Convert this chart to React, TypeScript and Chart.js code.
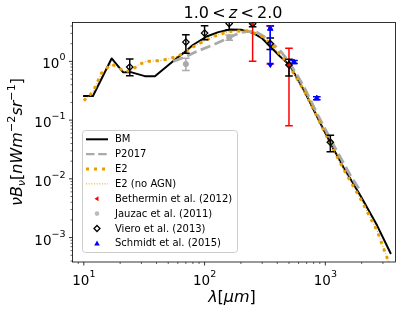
import React, { useEffect, useRef } from "react";
import { Chart, registerables } from "chart.js";
Chart.register(...registerables);

// ---------- data ----------
const bmLambda = [10, 11.9, 17, 21.2, 24.9, 32, 38.8, 58.7, 66.7, 80, 104, 130, 162, 200, 254, 300, 350, 420, 506, 661, 853, 1098, 1419, 1950, 2686, 3470];
const bmValue = [0.257, 0.257, 1.12, 0.65, 0.65, 0.56, 0.56, 1.13, 1.38, 1.9, 2.65, 3.15, 3.5, 3.45, 3.03, 2.45, 1.79, 1.22, 0.87, 0.33, 0.115, 0.041, 0.0155, 0.0052, 0.0016, 0.00054];

const p2017Lambda = [55, 70, 86, 118, 158, 197, 230, 270, 328, 420, 506, 661, 853, 1137, 1611, 1950];
const p2017Value = [1.0, 1.2, 1.47, 1.91, 2.5, 3.1, 3.25, 3.15, 2.45, 1.55, 0.95, 0.38, 0.13, 0.042, 0.0115, 0.0062];

const e2Lambda = [10, 11.9, 14, 17, 21.9, 24.9, 28.2, 33, 42.7, 50, 60.8, 66.7, 80, 104, 130, 162, 224, 289, 372, 496, 661, 853, 1098, 1419, 1950, 2686, 3350];
const e2Value = [0.214, 0.3, 0.63, 0.9, 0.67, 0.7, 0.87, 1.0, 1.03, 1.1, 1.24, 1.38, 1.75, 2.33, 2.85, 3.23, 3.32, 2.84, 1.79, 0.87, 0.33, 0.115, 0.04, 0.0145, 0.0046, 0.0013, 0.00038];

const e2NoAgnLambda = e2Lambda;
const e2NoAgnValue = e2Value;

const bethLambda = [250, 350, 500];
const bethValue = [4.3, 3.8, 0.87];
const bethLow = [1.0, 0.9, 0.08];
const bethHigh = [7.4, 4.05, 1.68];

const jauzLambda = [70, 160];
const jauzValue = [0.9, 2.55];
const jauzLow = [0.7, 2.3];
const jauzHigh = [1.13, 2.8];

const vieroLambda = [24, 70, 100, 160, 250, 350, 500, 1100];
const vieroValue = [0.8, 2.13, 3.03, 4.4, 4.37, 2.0, 0.87, 0.042];
const vieroLow = [0.57, 1.38, 2.33, 3.45, 3.9, 1.6, 0.565, 0.029];
const vieroHigh = [1.1, 2.84, 4.05, 5.6, 5.6, 2.5, 1.09, 0.055];

const schLambda = [350, 550, 850];
const schValue = [3.6, 0.97, 0.235];
const schLow = [0.95, 0.92, 0.222];
const schHigh = [4.0, 1.03, 0.25];
const schUpperLimit = [true, false, false];

const xMajorTicks = [10, 100, 1000];
const yMajorTicks = [1e-3, 1e-2, 1e-1, 1];

const legendLabels = ["BM", "P2017", "E2", "E2 (no AGN)", "Bethermin et al. (2012)", "Jauzac et al. (2011)", "Viero et al. (2013)", "Schmidt et al. (2015)"];

// ---------- styling ----------
const FONT = "'DejaVu Sans', 'Noto Sans', sans-serif";
const ORANGE = "#e69f00";
const GRAY = "#aaaaaa";
const X_MIN = 8.06, X_MAX = 3811;
const Y_MIN = 3.84e-4, Y_MAX = 4.59;

type Run = { t: string; it?: boolean; s: number; dy?: number };

function fontOf(r: Run) {
  return `${r.it ? "italic " : ""}${r.s}px ${FONT}`;
}
function runsWidth(ctx: CanvasRenderingContext2D, runs: Run[]) {
  let w = 0;
  for (const r of runs) {
    ctx.font = fontOf(r);
    w += ctx.measureText(r.t).width;
  }
  return w;
}
function drawRuns(ctx: CanvasRenderingContext2D, runs: Run[], x: number, y: number, align: "left" | "center" | "right") {
  const w = runsWidth(ctx, runs);
  let cx = align === "left" ? x : align === "center" ? x - w / 2 : x - w;
  ctx.textAlign = "left";
  ctx.textBaseline = "alphabetic";
  for (const r of runs) {
    ctx.font = fontOf(r);
    ctx.fillText(r.t, cx, y + (r.dy || 0));
    cx += ctx.measureText(r.t).width;
  }
}
function expRuns(v: number): Run[] {
  const k = Math.round(Math.log10(v));
  const e = k >= 0 ? String(k) : "\u2212" + String(-k);
  return [{ t: "10", s: 13.5 }, { t: e, s: 9.5, dy: -8 }];
}

function pts(xs: number[], ys: number[]) {
  return xs.map((x, i) => ({ x, y: ys[i] }));
}

function drawErrorBars(chart: any) {
  const ctx: CanvasRenderingContext2D = chart.ctx;
  const xs = chart.scales.x, ys = chart.scales.y;
  const a = chart.chartArea;
  ctx.save();
  ctx.beginPath();
  ctx.rect(a.left, a.top, a.right - a.left, a.bottom - a.top);
  ctx.clip();
  const bar = (lam: number, lo: number, hi: number, color: string, cap: number, capLo = true, capHi = true) => {
    const px = xs.getPixelForValue(lam);
    const p1 = ys.getPixelForValue(lo), p2 = ys.getPixelForValue(hi);
    ctx.strokeStyle = color;
    ctx.lineWidth = 1.5;
    ctx.lineCap = "butt";
    ctx.setLineDash([]);
    ctx.beginPath();
    ctx.moveTo(px, p1); ctx.lineTo(px, p2);
    if (capLo) { ctx.moveTo(px - cap, p1); ctx.lineTo(px + cap, p1); }
    if (capHi) { ctx.moveTo(px - cap, p2); ctx.lineTo(px + cap, p2); }
    ctx.stroke();
    return { px, p1 };
  };
  bethLambda.forEach((l, i) => bar(l, bethLow[i], bethHigh[i], "#ff0000", 3.8));
  jauzLambda.forEach((l, i) => bar(l, jauzLow[i], jauzHigh[i], GRAY, 3.8));
  vieroLambda.forEach((l, i) => bar(l, vieroLow[i], vieroHigh[i], "#000000", 3.8));
  schLambda.forEach((l, i) => {
    if (schUpperLimit[i]) {
      const { px, p1 } = bar(l, schLow[i], schHigh[i], "#0000ff", 3.8, false, true);
      ctx.fillStyle = "#0000ff";
      ctx.beginPath();
      ctx.moveTo(px - 3.5, p1);
      ctx.lineTo(px + 3.5, p1);
      ctx.lineTo(px, p1 + 5.5);
      ctx.closePath();
      ctx.fill();
    } else {
      bar(l, schLow[i], schHigh[i], "#0000ff", 3.8);
    }
  });
  ctx.restore();
}

function drawAxes(chart: any) {
  const ctx: CanvasRenderingContext2D = chart.ctx;
  const xs = chart.scales.x, ys = chart.scales.y;
  const a = chart.chartArea;
  ctx.save();
  ctx.setLineDash([]);
  ctx.strokeStyle = "#000";
  ctx.fillStyle = "#000";
  ctx.lineWidth = 0.8;
  ctx.strokeRect(a.left, a.top, a.right - a.left, a.bottom - a.top);
  for (let k = 0; k <= 4; k++) {
    for (let m = 1; m <= 9; m++) {
      const v = m * Math.pow(10, k);
      if (v < X_MIN || v > X_MAX) continue;
      const px = xs.getPixelForValue(v);
      const major = m === 1;
      ctx.lineWidth = major ? 0.8 : 0.6;
      ctx.beginPath();
      ctx.moveTo(px, a.bottom);
      ctx.lineTo(px, a.bottom + (major ? 3.5 : 2));
      ctx.stroke();
    }
  }
  for (let k = -4; k <= 1; k++) {
    for (let m = 1; m <= 9; m++) {
      const v = m * Math.pow(10, k);
      if (v < Y_MIN || v > Y_MAX) continue;
      const py = ys.getPixelForValue(v);
      const major = m === 1;
      ctx.lineWidth = major ? 0.8 : 0.6;
      ctx.beginPath();
      ctx.moveTo(a.left, py);
      ctx.lineTo(a.left - (major ? 3.5 : 2), py);
      ctx.stroke();
    }
  }
  xMajorTicks.forEach((v) => {
    const px = xs.getPixelForValue(v);
    drawRuns(ctx, expRuns(v), px, 285, "center");
  });
  yMajorTicks.forEach((v) => {
    const py = ys.getPixelForValue(v);
    drawRuns(ctx, expRuns(v), a.left - 7, py + 7, "right");
  });
  const gap: Run = { t: "\u2009", s: 16 };
  drawRuns(ctx, [
    { t: "1.0", s: 16 }, gap, { t: "<", s: 16 }, gap, { t: "z", s: 16, it: true }, gap, { t: "<", s: 16 }, gap, { t: "2.0", s: 16 },
  ], 233, 18.3, "center");
  drawRuns(ctx, [
    { t: "\u03bb", s: 16, it: true }, { t: "[", s: 16 }, { t: "\u03bcm", s: 16, it: true }, { t: "]", s: 16 },
  ], 232, 302, "center");
  ctx.translate(21.5, 142);
  ctx.rotate(-Math.PI / 2);
  drawRuns(ctx, [
    { t: "\u03bdB", s: 16, it: true }, { t: "\u03bd", s: 11.2, it: true, dy: 3 }, { t: "[", s: 16 },
    { t: "nWm", s: 16, it: true }, { t: "\u22122", s: 11.2, dy: -7 }, { t: "sr", s: 16, it: true }, { t: "\u22121", s: 11.2, dy: -7 }, { t: "]", s: 16 },
  ], 0, 0, "center");
  ctx.restore();
}

function drawLegend(chart: any) {
  const ctx: CanvasRenderingContext2D = chart.ctx;
  ctx.save();
  const bx = 82.5, by = 130.5, bw = 155, bh = 122, r = 3;
  ctx.beginPath();
  ctx.moveTo(bx + r, by);
  ctx.arcTo(bx + bw, by, bx + bw, by + bh, r);
  ctx.arcTo(bx + bw, by + bh, bx, by + bh, r);
  ctx.arcTo(bx, by + bh, bx, by, r);
  ctx.arcTo(bx, by, bx + bw, by, r);
  ctx.closePath();
  ctx.fillStyle = "rgba(255,255,255,0.8)";
  ctx.fill();
  ctx.strokeStyle = "#cccccc";
  ctx.lineWidth = 1;
  ctx.setLineDash([]);
  ctx.stroke();

  const rowY = (i: number) => 139.3 + i * 14.86;
  const x0 = 86, x1 = 108, mx = 97;
  const line = (i: number, color: string, lw: number, dash: number[], cap: CanvasLineCap) => {
    ctx.strokeStyle = color; ctx.lineWidth = lw; ctx.setLineDash(dash); ctx.lineCap = cap;
    ctx.beginPath(); ctx.moveTo(x0, rowY(i)); ctx.lineTo(x1, rowY(i)); ctx.stroke();
  };
  line(0, "#000", 2, [], "butt");
  line(1, GRAY, 2.3, [8.5, 3.7], "butt");
  line(2, ORANGE, 3, [3, 5], "butt");
  line(3, ORANGE, 1, [1, 1.65], "butt");
  ctx.setLineDash([]);
  let y = rowY(4);
  ctx.fillStyle = "#ff0000";
  ctx.beginPath(); ctx.moveTo(mx - 2.5, y); ctx.lineTo(mx + 1.5, y - 2.5); ctx.lineTo(mx + 1.5, y + 2.5); ctx.closePath(); ctx.fill();
  y = rowY(5);
  ctx.fillStyle = "#bbbbbb";
  ctx.beginPath(); ctx.arc(mx, y, 2.3, 0, Math.PI * 2); ctx.fill();
  y = rowY(6);
  ctx.strokeStyle = "#000"; ctx.lineWidth = 1.3;
  ctx.beginPath(); ctx.moveTo(mx, y - 3); ctx.lineTo(mx + 3, y); ctx.lineTo(mx, y + 3); ctx.lineTo(mx - 3, y); ctx.closePath(); ctx.stroke();
  y = rowY(7);
  ctx.fillStyle = "#0000ff";
  ctx.beginPath(); ctx.moveTo(mx, y - 2.8); ctx.lineTo(mx + 2.8, y + 2.2); ctx.lineTo(mx - 2.8, y + 2.2); ctx.closePath(); ctx.fill();
  ctx.fillStyle = "#000";
  ctx.font = `10px ${FONT}`;
  ctx.textAlign = "left";
  ctx.textBaseline = "middle";
  legendLabels.forEach((t, i) => ctx.fillText(t, 115, rowY(i) + 0.5));
  ctx.restore();
}

const mplPlugin = {
  id: "mplPlugin",
  afterDatasetDraw(chart: any, args: any) {
    if (chart.data.datasets[args.index].label === "E2 (no AGN)") drawErrorBars(chart);
  },
  afterDraw(chart: any) {
    drawAxes(chart);
    drawLegend(chart);
  },
};

export default function App() {
  const ref = useRef<HTMLCanvasElement | null>(null);
  useEffect(() => {
    if (!ref.current) return;
    const lineDs = (label: string, xs: number[], ys: number[], color: string, width: number, dash: number[], order: number, cap: CanvasLineCap) => ({
      label, data: pts(xs, ys), showLine: true, pointRadius: 0, borderColor: color, borderWidth: width,
      borderDash: dash, borderCapStyle: cap, borderJoinStyle: "round" as const, tension: 0, fill: false, order, clip: 0,
    });
    const ptDs = (label: string, xs: number[], ys: number[], style: string, radius: number, bg: string, border: string, bw: number, order: number, rotation = 0) => ({
      label, data: pts(xs, ys), showLine: false, pointStyle: style, pointRadius: radius, pointRotation: rotation,
      pointBackgroundColor: bg, pointBorderColor: border, pointBorderWidth: bw, order, clip: 0,
    });
    const chart = new Chart(ref.current, {
      type: "scatter",
      data: {
        datasets: [
          lineDs("BM", bmLambda, bmValue, "#000000", 2, [], 13, "round"),
          lineDs("P2017", p2017Lambda, p2017Value, GRAY, 2.8, [10.4, 4.5], 12, "butt"),
          lineDs("E2", e2Lambda, e2Value, ORANGE, 3, [3, 5], 11, "butt"),
          lineDs("E2 (no AGN)", e2NoAgnLambda, e2NoAgnValue, ORANGE, 1, [1, 1.65], 10, "butt"),
          ptDs("Bethermin et al. (2012)", bethLambda, bethValue, "triangle", 2.2, "#ff0000", "#ff0000", 1, 3, 270),
          ptDs("Jauzac et al. (2011)", jauzLambda, jauzValue, "circle", 2.6, GRAY, GRAY, 1, 2),
          ptDs("Viero et al. (2013)", vieroLambda, vieroValue, "rectRot", 3.2, "rgba(0,0,0,0)", "#000000", 1.3, 1),
          ptDs("Schmidt et al. (2015)", schLambda, schValue, "triangle", 3.2, "#0000ff", "#0000ff", 1, 0),
        ] as any,
      },
      options: {
        animation: false,
        responsive: false,
        maintainAspectRatio: false,
        devicePixelRatio: 1,
        layout: { padding: { left: 72.5, top: 22.5, right: 11.5, bottom: 50 } },
        scales: {
          x: { type: "logarithmic", min: X_MIN, max: X_MAX, display: false },
          y: { type: "logarithmic", min: Y_MIN, max: Y_MAX, display: false },
        },
        plugins: { legend: { display: false }, tooltip: { enabled: false }, title: { display: false } },
        events: [],
      } as any,
      plugins: [mplPlugin],
    });
    return () => chart.destroy();
  }, []);
  return (
    <div style={{ position: "fixed", left: 0, top: 0, width: 407, height: 312, background: "#fff" }}>
      <canvas ref={ref} width={407} height={312} style={{ display: "block", width: 407, height: 312 }} />
    </div>
  );
}
